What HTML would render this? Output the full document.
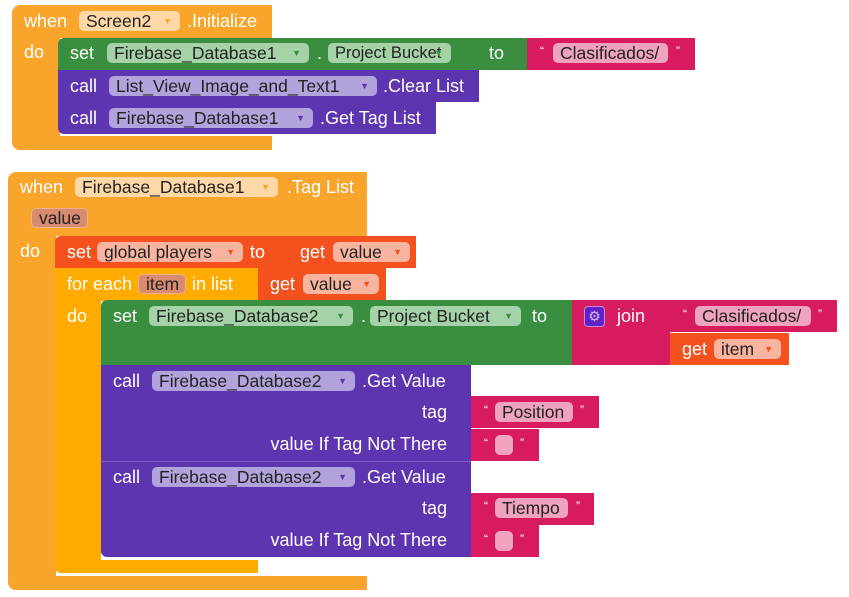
<!DOCTYPE html>
<html><head><meta charset="utf-8"><style>
body{margin:0;width:849px;height:597px;background:#fff;position:relative;overflow:hidden;font-family:"Liberation Sans",sans-serif;}
div{position:absolute;box-sizing:border-box;}
.t{color:#fff;font-size:18px;line-height:20px;white-space:nowrap;}
.r{text-align:right;width:300px;left:147px;}
.c{height:20px;border-radius:5px;color:#222;font-size:17.5px;line-height:20px;padding-left:7px;white-space:nowrap;}
.ar{font-size:9px;position:absolute;right:8px;top:0;}
.ev{background:#F9A52B;}
.gr{background:#3A8E3F;}
.pu{background:#5E35B1;}
.pk{background:#D81B60;}
.or{background:#F4511E;}
.fe{background:#FFAB00;}
</style></head><body>

<!-- Block 1 -->
<div class="ev" style="left:12px;top:5px;width:260px;height:33px;border-radius:8px 0 0 0"></div>
<div class="ev" style="left:12px;top:37px;width:48px;height:113px;border-radius:0 0 0 8px"></div>
<div class="ev" style="left:12px;top:136px;width:260px;height:14px;border-radius:0 0 0 8px"></div>
<div class="t" style="left:24px;top:11px">when</div>
<div class="c" style="left:79px;top:11px;width:101px;background:#FFD8A8">Screen2<span class="ar" style="color:#F9A52B">▼</span></div>
<div class="t" style="left:187px;top:11px">.Initialize</div>
<div class="t" style="left:24px;top:42px">do</div>

<div class="gr" style="left:58px;top:38px;width:470px;height:32px;border-radius:6px 0 0 0"></div>
<div class="t" style="left:70px;top:43px">set</div>
<div class="c" style="left:107px;top:43px;width:202px;background:#A5D3A7">Firebase_Database1<span class="ar" style="color:#3A8E3F">▼</span></div>
<div class="t" style="left:317px;top:43px">.</div>
<div class="c" style="left:328px;top:43px;width:123px;background:#A5D3A7;font-size:16.5px">Project Bucket<span class="ar" style="color:#3A8E3F">▼</span></div>
<div class="t" style="left:489px;top:43px">to</div>
<div class="pk" style="left:527px;top:38px;width:168px;height:32px"></div>
<div class="t" style="left:540px;top:41px;font-size:12px">“</div>
<div class="c" style="left:553px;top:43px;width:115px;background:#F0A3C0">Clasificados/</div>
<div class="t" style="left:676px;top:41px;font-size:12px">”</div>

<div class="pu" style="left:58px;top:70px;width:421px;height:32px"></div>
<div class="t" style="left:70px;top:76px">call</div>
<div class="c" style="left:109px;top:76px;width:268px;background:#B3A3DC">List_View_Image_and_Text1<span class="ar" style="color:#5E35B1">▼</span></div>
<div class="t" style="left:383px;top:76px">.Clear List</div>
<div class="pu" style="left:58px;top:102px;width:378px;height:32px;border-radius:0 0 0 6px"></div>
<div class="t" style="left:70px;top:108px">call</div>
<div class="c" style="left:109px;top:108px;width:204px;background:#B3A3DC">Firebase_Database1<span class="ar" style="color:#5E35B1">▼</span></div>
<div class="t" style="left:320px;top:108px">.Get Tag List</div>

<!-- Block 2 -->
<div class="ev" style="left:8px;top:172px;width:359px;height:64px;border-radius:8px 0 0 0"></div>
<div class="ev" style="left:8px;top:235px;width:48px;height:355px;border-radius:0 0 0 8px"></div>
<div class="ev" style="left:8px;top:576px;width:359px;height:14px;border-radius:0 0 0 8px"></div>
<div class="t" style="left:20px;top:177px">when</div>
<div class="c" style="left:75px;top:177px;width:203px;background:#FFD8A8">Firebase_Database1<span class="ar" style="color:#F9A52B">▼</span></div>
<div class="t" style="left:287px;top:177px">.Tag List</div>
<div class="c" style="left:31px;top:208px;width:57px;background:#D98B70;border:1px solid #F0B090;line-height:18px">value</div>
<div class="t" style="left:20px;top:241px">do</div>

<div class="or" style="left:55px;top:236px;width:235px;height:32px;border-radius:6px 0 0 0"></div>
<div class="t" style="left:67px;top:242px">set</div>
<div class="c" style="left:97px;top:242px;width:146px;background:#F9B4A0">global players<span class="ar" style="color:#F4511E">▼</span></div>
<div class="t" style="left:250px;top:242px">to</div>
<div class="or" style="left:289px;top:236px;width:127px;height:32px"></div>
<div class="t" style="left:300px;top:242px">get</div>
<div class="c" style="left:333px;top:242px;width:77px;background:#F9B4A0">value<span class="ar" style="color:#F4511E">▼</span></div>

<div class="fe" style="left:55px;top:268px;width:203px;height:33px"></div>
<div class="fe" style="left:55px;top:300px;width:46px;height:273px;border-radius:0 0 0 6px"></div>
<div class="fe" style="left:55px;top:560px;width:203px;height:13px;border-radius:0 0 0 6px"></div>
<div class="t" style="left:67px;top:274px">for each</div>
<div class="c" style="left:138px;top:274px;width:48px;background:#D98B70;border:1px solid #F0B090;line-height:18px">item</div>
<div class="t" style="left:192px;top:274px">in list</div>
<div class="or" style="left:258px;top:268px;width:128px;height:32px"></div>
<div class="t" style="left:270px;top:274px">get</div>
<div class="c" style="left:303px;top:274px;width:76px;background:#F9B4A0">value<span class="ar" style="color:#F4511E">▼</span></div>
<div class="t" style="left:67px;top:306px">do</div>

<div class="gr" style="left:101px;top:300px;width:471px;height:65px;border-radius:6px 0 0 0"></div>
<div class="t" style="left:113px;top:306px">set</div>
<div class="c" style="left:149px;top:306px;width:204px;background:#A5D3A7">Firebase_Database2<span class="ar" style="color:#3A8E3F">▼</span></div>
<div class="t" style="left:361px;top:306px">.</div>
<div class="c" style="left:370px;top:306px;width:151px;background:#A5D3A7">Project Bucket<span class="ar" style="color:#3A8E3F">▼</span></div>
<div class="t" style="left:532px;top:306px">to</div>
<div class="pk" style="left:572px;top:300px;width:98px;height:65px"></div>
<div style="left:584px;top:306px;width:21px;height:21px;border-radius:4px;background:#5E23C8;border:1px solid #C88ADF;color:#D8B8F0;font-size:14px;line-height:19px;text-align:center">⚙</div>
<div class="t" style="left:617px;top:306px">join</div>
<div class="pk" style="left:670px;top:300px;width:167px;height:32px"></div>
<div class="t" style="left:683px;top:304px;font-size:12px">“</div>
<div class="c" style="left:695px;top:306px;width:116px;background:#F0A3C0">Clasificados/</div>
<div class="t" style="left:818px;top:304px;font-size:12px">”</div>
<div class="or" style="left:670px;top:333px;width:119px;height:32px"></div>
<div class="t" style="left:682px;top:339px">get</div>
<div class="c" style="left:714px;top:339px;width:67px;background:#F9B4A0">item<span class="ar" style="color:#F4511E">▼</span></div>

<div class="pu" style="left:101px;top:365px;width:370px;height:96px"></div>
<div class="t" style="left:113px;top:371px">call</div>
<div class="c" style="left:152px;top:371px;width:203px;background:#B3A3DC">Firebase_Database2<span class="ar" style="color:#5E35B1">▼</span></div>
<div class="t" style="left:362px;top:371px">.Get Value</div>
<div class="t r" style="top:402px">tag</div>
<div class="t r" style="top:434px">value If Tag Not There</div>
<div class="pk" style="left:471px;top:396px;width:128px;height:32px"></div>
<div class="t" style="left:484px;top:400px;font-size:12px">“</div>
<div class="c" style="left:495px;top:402px;width:78px;background:#F0A3C0">Position</div>
<div class="t" style="left:580px;top:400px;font-size:12px">”</div>
<div class="pk" style="left:471px;top:429px;width:68px;height:32px"></div>
<div class="t" style="left:484px;top:433px;font-size:12px">“</div>
<div class="c" style="left:495px;top:435px;width:18px;background:#F0A3C0"></div>
<div class="t" style="left:520px;top:433px;font-size:12px">”</div>

<div class="pu" style="left:101px;top:461px;width:370px;height:96px;border-radius:0 0 0 6px;border-top:1px solid #7E5CC4"></div>
<div class="t" style="left:113px;top:467px">call</div>
<div class="c" style="left:152px;top:467px;width:203px;background:#B3A3DC">Firebase_Database2<span class="ar" style="color:#5E35B1">▼</span></div>
<div class="t" style="left:362px;top:467px">.Get Value</div>
<div class="t r" style="top:498px">tag</div>
<div class="t r" style="top:530px">value If Tag Not There</div>
<div class="pk" style="left:471px;top:493px;width:123px;height:32px"></div>
<div class="t" style="left:484px;top:496px;font-size:12px">“</div>
<div class="c" style="left:495px;top:498px;width:73px;background:#F0A3C0">Tiempo</div>
<div class="t" style="left:576px;top:496px;font-size:12px">”</div>
<div class="pk" style="left:471px;top:525px;width:68px;height:32px"></div>
<div class="t" style="left:484px;top:529px;font-size:12px">“</div>
<div class="c" style="left:495px;top:531px;width:18px;background:#F0A3C0"></div>
<div class="t" style="left:520px;top:529px;font-size:12px">”</div>

</body></html>
